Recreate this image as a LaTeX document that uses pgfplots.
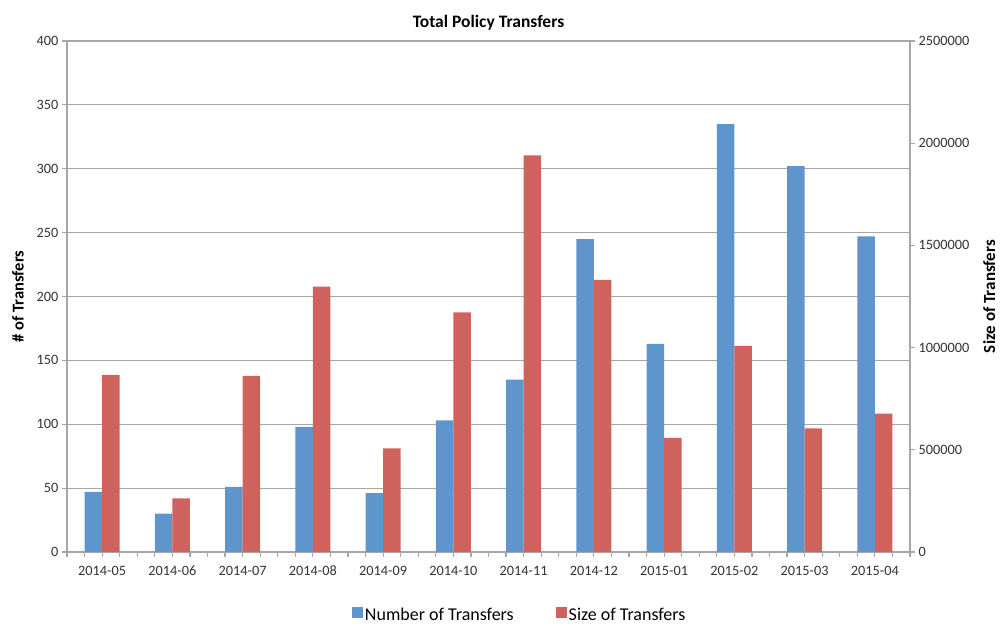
\documentclass[border=0pt]{standalone}
\usepackage{pgfplots}
\pgfplotsset{compat=1.18}
\usepackage{fontspec}
\setmainfont{Carlito}
\definecolor{barblue}{HTML}{5E95CC}
\definecolor{barred}{HTML}{CF625D}
\definecolor{gridgray}{HTML}{A6A6A6}

\begin{document}
\begin{tikzpicture}
\pgfplotsset{
  every axis/.append style={
    scale only axis, width=843pt, height=511pt,
    xmin=-0.5, xmax=11.5,
    axis line style={gridgray, line width=1.2pt},
    tick style={gridgray, line width=1.2pt},
    major tick length=5pt, minor tick length=5pt,
    tick align=outside,
    ticklabel style={font=\fontsize{14.3}{16}\selectfont, text=black!80},
    /pgf/number format/assume math mode=true,
  },
  sqleg/.style={legend image code/.code={\fill[##1] (0pt,-3pt) rectangle (11pt,8pt);}},
}
% number of transfers, left axis
\begin{axis}[
  name=ax,
  ybar,
  ymin=0, ymax=400, ytick={0,50,...,400},
  axis x line*=bottom, axis y line*=left,
  xtick={0,...,11},
  xticklabels={2014-05,2014-06,2014-07,2014-08,2014-09,2014-10,2014-11,2014-12,2015-01,2015-02,2015-03,2015-04},
  xticklabel style={yshift=-5pt, text height=10pt, text depth=0pt},
  minor xtick={-0.5,-0.25,...,11.5},
  ymajorgrids, grid style={gridgray, line width=1.2pt},
  ylabel={\# of Transfers},
  ylabel style={font=\bfseries\fontsize{16.5}{20}\selectfont, yshift=6pt},
  title={Total Policy Transfers},
  title style={font=\bfseries\fontsize{17.5}{20}\selectfont, yshift=1pt},
]
\addplot[fill=barblue, draw=none, bar width=17.5pt, bar shift=-8.75pt] coordinates {
  (0,47) (1,30) (2,51) (3,98) (4,46) (5,103)
  (6,135) (7,245) (8,163) (9,335) (10,302) (11,247)
};
\end{axis}
% size of transfers, right axis
\begin{axis}[
  ybar,
  ymin=0, ymax=2500000, ytick={0,500000,...,2500000},
  scaled y ticks=false,
  yticklabel style={/pgf/number format/fixed, /pgf/number format/1000 sep={}},
  axis x line=none, axis y line*=right,
  ylabel={Size of Transfers}, ylabel near ticks,
  ylabel style={font=\bfseries\fontsize{17}{20}\selectfont, yshift=-7pt},
  legend style={at={(0.537,-0.123)}, anchor=center, draw=none, legend columns=2,
    font=\fontsize{18}{21}\selectfont,
    /tikz/every even column/.style={column sep=40pt}},
]
\addlegendimage{fill=barblue, draw=none, sqleg}
\addlegendentry{Number of Transfers}
\addplot[fill=barred, draw=none, bar width=17.5pt, bar shift=8.75pt, sqleg] coordinates {
  (0,866000) (1,262000) (2,862000) (3,1298000) (4,507000) (5,1172000)
  (6,1940000) (7,1331000) (8,558000) (9,1009000) (10,605000) (11,677000)
};
\addlegendentry{Size of Transfers}
\end{axis}
\path[use as bounding box] ([shift={(-67pt,-72pt)}]ax.south west) rectangle ([shift={(98pt,41pt)}]ax.north east);
\end{tikzpicture}
\end{document}
